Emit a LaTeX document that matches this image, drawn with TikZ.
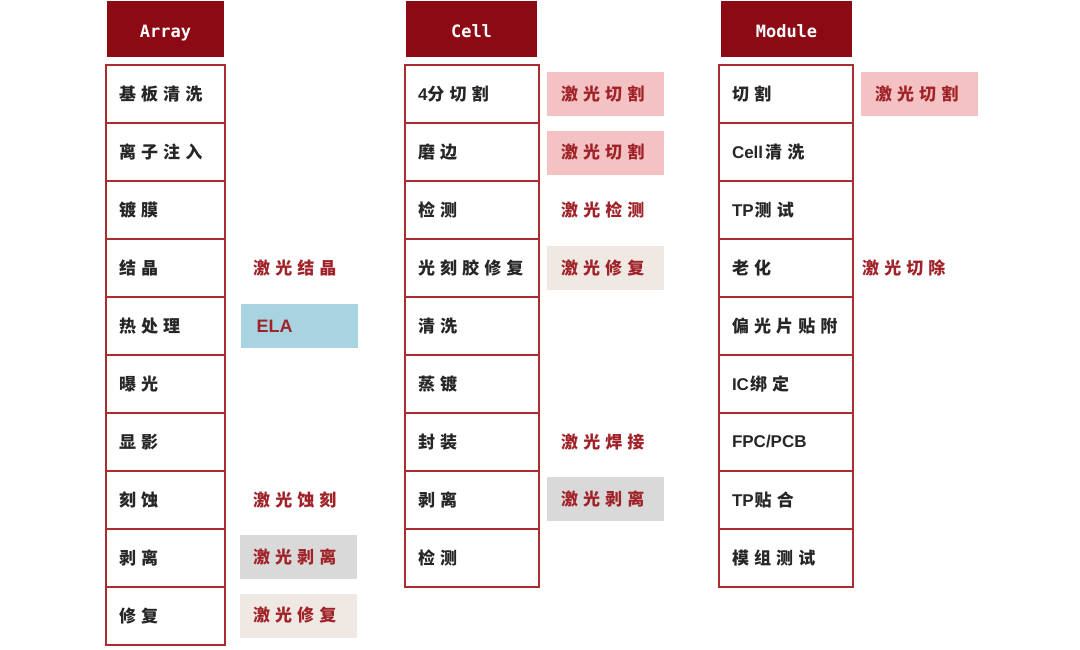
\documentclass[tikz,border=0pt]{standalone}
\usepackage{fontspec}
\newfontfamily\cjk[LetterSpace=30]{Noto Sans CJK SC}
\newfontfamily\hdrfont{DejaVu Sans Mono}
\newfontfamily\latinbold{Liberation Sans}
\newcommand\lat{\latinbold\bfseries}
\definecolor{hdred}{RGB}{140,10,20}
\definecolor{bordred}{RGB}{170,45,50}
\definecolor{labred}{RGB}{160,35,42}
\definecolor{pinkbg}{RGB}{244,194,194}
\definecolor{bluebg}{RGB}{168,212,226}
\definecolor{graybg}{RGB}{217,217,217}
\definecolor{beigebg}{RGB}{240,232,226}
\tikzset{
  hdrbox/.style={fill=hdred, draw=none, minimum height=56pt, inner sep=0pt,
    text height=17pt, text depth=0pt,
    text=white, font=\hdrfont\bfseries\fontsize{17}{17}\selectfont},
  stepbox/.style={draw=bordred, line width=1.5pt, minimum height=58pt, inner sep=0pt,
    align=left, text=black!85, font=\cjk\bfseries\fontsize{17}{17}\selectfont},
  tagbox/.style={draw=none, minimum height=44pt, minimum width=117pt, inner sep=0pt,
    align=left, text width=91pt, text=labred, font=\cjk\bfseries\fontsize{17}{17}\selectfont},
  tagtext/.style={anchor=west, inner sep=0pt, text=labred, font=\cjk\bfseries\fontsize{17}{17}\selectfont},
}
\begin{document}
\begin{tikzpicture}[x=1pt,y=-1pt]
\useasboundingbox (0,0) rectangle (1080,649);
% headers
\node[hdrbox, minimum width=117pt] (harr) at (165.5,29) {Array};
\node[hdrbox, minimum width=131pt] (hcell) at (471.5,29) {Cell};
\node[hdrbox, minimum width=131pt] (hmod) at (786.5,29) {Module};
% Array column
\foreach \t [count=\i] in {基板清洗,离子注入,镀膜,结晶,热处理,曝光,显影,刻蚀,剥离,修复}{
  \node[stepbox, minimum width=119pt, text width=93pt] (a\i) at (165.5,{65+58*(\i-0.5)}) {\t};
}
% Cell column
\foreach \t [count=\i] in {{{\lat 4}分切割},磨边,检测,光刻胶修复,清洗,蒸镀,封装,剥离,检测}{
  \node[stepbox, minimum width=134pt, text width=108pt] (c\i) at (472,{65+58*(\i-0.5)}) {\t};
}
% Module column
\foreach \t [count=\i] in {切割,{{\lat Cell}\kern2pt 清洗},{{\lat TP}\kern1pt 测试},老化,偏光片贴附,{{\lat IC}\kern1pt 绑定},{{\lat FPC/PCB}},{{\lat TP}\kern1pt 贴合},模组测试}{
  \node[stepbox, minimum width=134pt, text width=108pt] (m\i) at (786,{65+58*(\i-0.5)}) {\t};
}
% Array tags
\node[tagtext] (ta4) at (253,268) {激光结晶};
\node[tagbox, fill=bluebg, text width=86pt] (ta5) at (299.5,326) {\lat\fontsize{18}{18}\selectfont ELA};
\node[tagtext] (ta8) at (253,500) {激光蚀刻};
\node[tagbox, fill=graybg] (ta9) at (298.5,557) {激光剥离};
\node[tagbox, fill=beigebg] (ta10) at (298.5,615.5) {激光修复};
% Cell tags
\node[tagbox, fill=pinkbg, text width=89pt] (tc1) at (605.5,94) {激光切割};
\node[tagbox, fill=pinkbg, text width=89pt] (tc2) at (605.5,152.5) {激光切割};
\node[tagtext] (tc3) at (561,210) {激光检测};
\node[tagbox, fill=beigebg, text width=89pt] (tc4) at (605.5,268) {激光修复};
\node[tagtext] (tc7) at (561,442) {激光焊接};
\node[tagbox, fill=graybg, text width=89pt] (tc8) at (605.5,499) {激光剥离};
% Module tags
\node[tagbox, fill=pinkbg, text width=89pt] (tm1) at (919.5,94) {激光切割};
\node[tagtext] (tm4) at (862,268) {激光切除};
\end{tikzpicture}
\end{document}
